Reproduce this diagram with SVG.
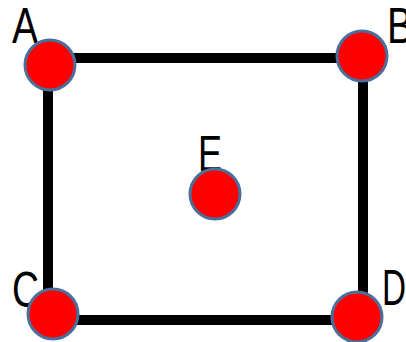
<svg xmlns="http://www.w3.org/2000/svg" width="406" height="342" viewBox="0 0 406 342">
<style>
.lbl{font-family:"Liberation Sans",Arial,sans-serif;font-size:50px;fill:#000}
.edge{stroke:#000;stroke-width:10;fill:none;stroke-linecap:square}
.dot{fill:#ff0000;stroke:#4a6f9a;stroke-width:3}
</style>
<rect width="406" height="342" fill="#fff"/>
<g id="connectors">
<line class="edge" x1="48" y1="58" x2="363" y2="58"/>
<line class="edge" x1="48" y1="58" x2="48" y2="320"/>
<line class="edge" x1="363" y1="58" x2="363" y2="320"/>
<line class="edge" x1="48" y1="320" x2="363" y2="320"/>
</g>
<g id="A"><text class="lbl" x="12" y="43" textLength="26" lengthAdjust="spacingAndGlyphs">A</text><circle class="dot" cx="50" cy="65" r="25"/></g>
<g id="B"><text class="lbl" x="387" y="43" textLength="26" lengthAdjust="spacingAndGlyphs">B</text><circle class="dot" cx="362" cy="56" r="25"/></g>
<g id="C"><text class="lbl" x="12" y="307" textLength="27" lengthAdjust="spacingAndGlyphs">C</text><circle class="dot" cx="53" cy="314" r="25"/></g>
<g id="D"><text class="lbl" x="382" y="305" textLength="24" lengthAdjust="spacingAndGlyphs">D</text><circle class="dot" cx="357" cy="317" r="25"/></g>
<g id="E"><text class="lbl" x="198" y="171" textLength="24" lengthAdjust="spacingAndGlyphs">E</text><circle class="dot" cx="215" cy="194" r="25"/></g>
</svg>
